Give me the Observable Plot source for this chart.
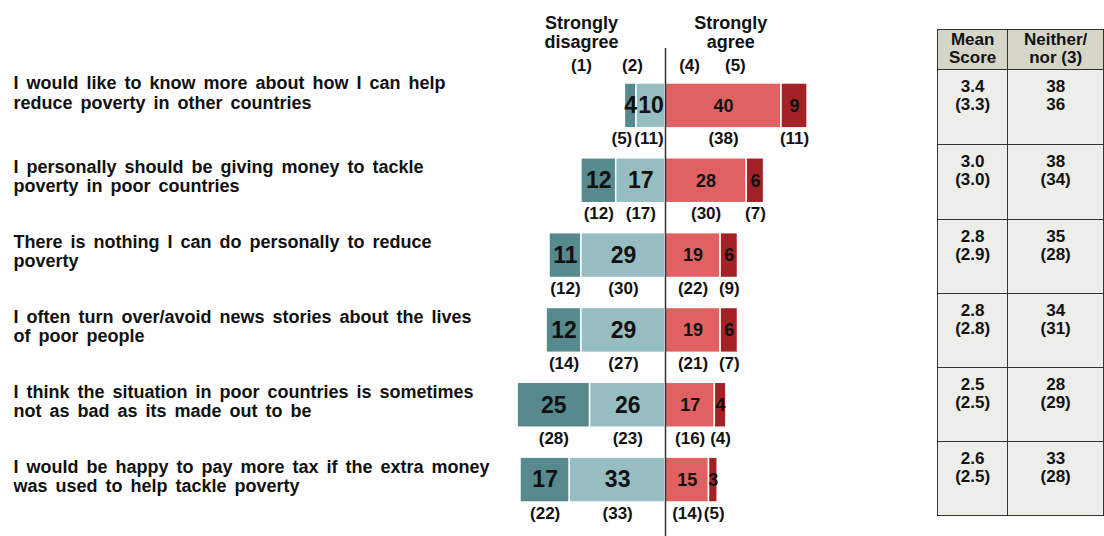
<!DOCTYPE html>
<html>
<head>
<meta charset="utf-8">
<script src="https://cdn.jsdelivr.net/npm/d3@7"></script>
<script src="https://cdn.jsdelivr.net/npm/@observablehq/plot@0.6"></script>
<style>
  html, body { margin: 0; padding: 0; background: #fff; }
  body { width: 1104px; height: 536px; overflow: hidden; position: relative; font-family: "Liberation Sans", Arial, sans-serif; }
  #chart { position: absolute; left: 0; top: 0; }
  #chart svg text { word-spacing: 3px; }
  #tbl { position: absolute; left: 937px; top: 29px; border-collapse: collapse; font: bold 17px/18px "Liberation Sans", Arial, sans-serif; color: #111; }
  #tbl td, #tbl th { border: 1.5px solid #333; text-align: center; padding: 0; }
  #tbl th { background: #d6d6c8; font-weight: bold; vertical-align: top; height: 40px; padding-top: 1px; box-sizing: border-box; }
  #tbl td { background: #ededea; vertical-align: top; padding-top: 8px; box-sizing: border-box; }
</style>
</head>
<body>
<div id="chart"></div>
<table id="tbl"></table>
<script>
// ---- data ----
const statements = [
  "I would like to know more about how I can help\nreduce poverty in other countries",
  "I personally should be giving money to tackle\npoverty in poor countries",
  "There is nothing I can do personally to reduce\npoverty",
  "I often turn over/avoid news stories about the lives\nof poor people",
  "I think the situation in poor countries is sometimes\nnot as bad as its made out to be",
  "I would be happy to pay more tax if the extra money\nwas used to help tackle poverty"
];
const categories = ["Strongly disagree (1)", "Disagree (2)", "Agree (4)", "Strongly agree (5)"];
const stronglyDisagree = [4, 12, 11, 12, 25, 17];
const disagree = [10, 17, 29, 29, 26, 33];
const agree = [40, 28, 19, 19, 17, 15];
const stronglyAgree = [9, 6, 6, 6, 4, 3];
const prevStronglyDisagree = [5, 12, 12, 14, 28, 22];
const prevDisagree = [11, 17, 30, 27, 23, 33];
const prevAgree = [38, 30, 22, 21, 16, 14];
const prevStronglyAgree = [11, 7, 9, 7, 4, 5];
const meanScore = ["3.4", "3.0", "2.8", "2.8", "2.5", "2.6"];
const prevMeanScore = ["(3.3)", "(3.0)", "(2.9)", "(2.8)", "(2.5)", "(2.5)"];
const neither = ["38", "38", "35", "34", "28", "33"];
const prevNeither = ["36", "(34)", "(28)", "(31)", "(29)", "(28)"];
const headerLabels = ["(1)", "(2)", "(4)", "(5)"];
const colors = ["#568a8e", "#96bdc1", "#e06162", "#a32225"];

// ---- build segments ----
const segs = [];
statements.forEach((s, i) => {
  const sd = stronglyDisagree[i], d = disagree[i], a = agree[i], sa = stronglyAgree[i];
  segs.push({stmt: s, row: i, cat: categories[0], x1: -(d + sd), x2: -d, value: sd, prev: prevStronglyDisagree[i]});
  segs.push({stmt: s, row: i, cat: categories[1], x1: -d, x2: 0, value: d, prev: prevDisagree[i]});
  segs.push({stmt: s, row: i, cat: categories[2], x1: 0, x2: a, value: a, prev: prevAgree[i]});
  segs.push({stmt: s, row: i, cat: categories[3], x1: a, x2: a + sa, value: sa, prev: prevStronglyAgree[i]});
});

// ---- previous-wave labels: centred on segment, nudged apart if they collide ----
const pxPerUnit = 2.9;
const prevFont = 17;
const labW = v => prevFont * (0.666 + 0.556 * String(v).length) / pxPerUnit; // in data units
const prevLabels = [];
statements.forEach((s, i) => {
  const r = segs.filter(d => d.row === i);
  const c = r.map(d => (d.x1 + d.x2) / 2);
  const w = r.map(d => labW(d.prev));
  const gap = 1.5 / pxPerUnit;
  // left side
  c[1] = Math.min(c[1], -w[1] / 2 - gap);
  c[0] = Math.min(c[0], c[1] - w[1] / 2 - w[0] / 2 - gap);
  // right side
  c[2] = Math.max(c[2], w[2] / 2 + gap);
  c[3] = Math.max(c[3], c[2] + w[2] / 2 + w[3] / 2 + gap);
  r.forEach((d, k) => prevLabels.push({stmt: s, x: c[k], text: `(${d.prev})`}));
});

const isTeal = d => d.cat === categories[0] || d.cat === categories[1];
const font = "Liberation Sans, Arial, sans-serif";

const chart = Plot.plot({
  width: 1104,
  height: 536,
  marginTop: 48,
  marginBottom: 0,
  marginLeft: 0,
  marginRight: 0,
  style: {fontFamily: font, color: "#111", background: "transparent", overflow: "visible"},
  x: {domain: [-60, 60], range: [665 - 60 * pxPerUnit, 665 + 60 * pxPerUnit], axis: null},
  y: {domain: statements, range: [68, 517], paddingInner: 0.4, paddingOuter: 0.2, round: false, axis: null},
  color: {domain: categories, range: colors},
  marks: [
    Plot.barX(segs, {y: "stmt", x1: "x1", x2: "x2", fill: "cat", stroke: "white", strokeWidth: 1.5}),
    Plot.ruleX([0], {stroke: "#333", strokeWidth: 1.5}),
    Plot.text(segs.filter(isTeal), {y: "stmt", x: d => (d.x1 + d.x2) / 2, text: "value", fontSize: 23, fontWeight: "bold", fill: "#111"}),
    Plot.text(segs.filter(d => !isTeal(d)), {y: "stmt", x: d => (d.x1 + d.x2) / 2, text: "value", fontSize: 18, fontWeight: "bold", fill: "#111"}),
    Plot.text(prevLabels, {y: "stmt", x: "x", text: "text", dy: 33, fontSize: prevFont, fontWeight: "bold", fill: "#111"}),
    // statements
    Plot.text(statements.slice(0, 1), {y: d => d, text: d => d, frameAnchor: "left", dx: 13, dy: -13, textAnchor: "start", lineAnchor: "middle", fontSize: 18, fontWeight: "bold", lineHeight: 1.06, fill: "#111"}),
    Plot.text(statements.slice(1), {y: d => d, text: d => d, frameAnchor: "left", dx: 13, dy: -4, textAnchor: "start", lineAnchor: "middle", fontSize: 18, fontWeight: "bold", lineHeight: 1.06, fill: "#111"}),
    // header annotations
    Plot.text(["Strongly\ndisagree", "Strongly\nagree"], {x: [-29, 22.5], text: d => d, frameAnchor: "top", dy: -33, lineAnchor: "top", fontSize: 18, fontWeight: "bold", lineHeight: 1.06, fill: "#111"}),
    Plot.text(headerLabels, {x: [-29, -11.4, 8.3, 24.1], text: d => d, frameAnchor: "top", dy: 17, lineAnchor: "middle", fontSize: 17, fontWeight: "bold", fill: "#111"})
  ]
});
document.getElementById("chart").appendChild(chart);

// ---- side table ----
const tbl = d3.select("#tbl");
const head = tbl.append("tr");
head.append("th").style("width", "79px").html("Mean<br>Score");
head.append("th").style("width", "108px").html("Neither/<br>nor (3)");
const rowH = [75, 75, 74, 74, 74, 74];
meanScore.forEach((m, i) => {
  const tr = tbl.append("tr");
  tr.append("td").style("height", rowH[i] + "px").html(`${m}<br>${prevMeanScore[i]}`);
  tr.append("td").style("height", rowH[i] + "px").html(`${neither[i]}<br>${prevNeither[i]}`);
});
</script>
</body>
</html>
